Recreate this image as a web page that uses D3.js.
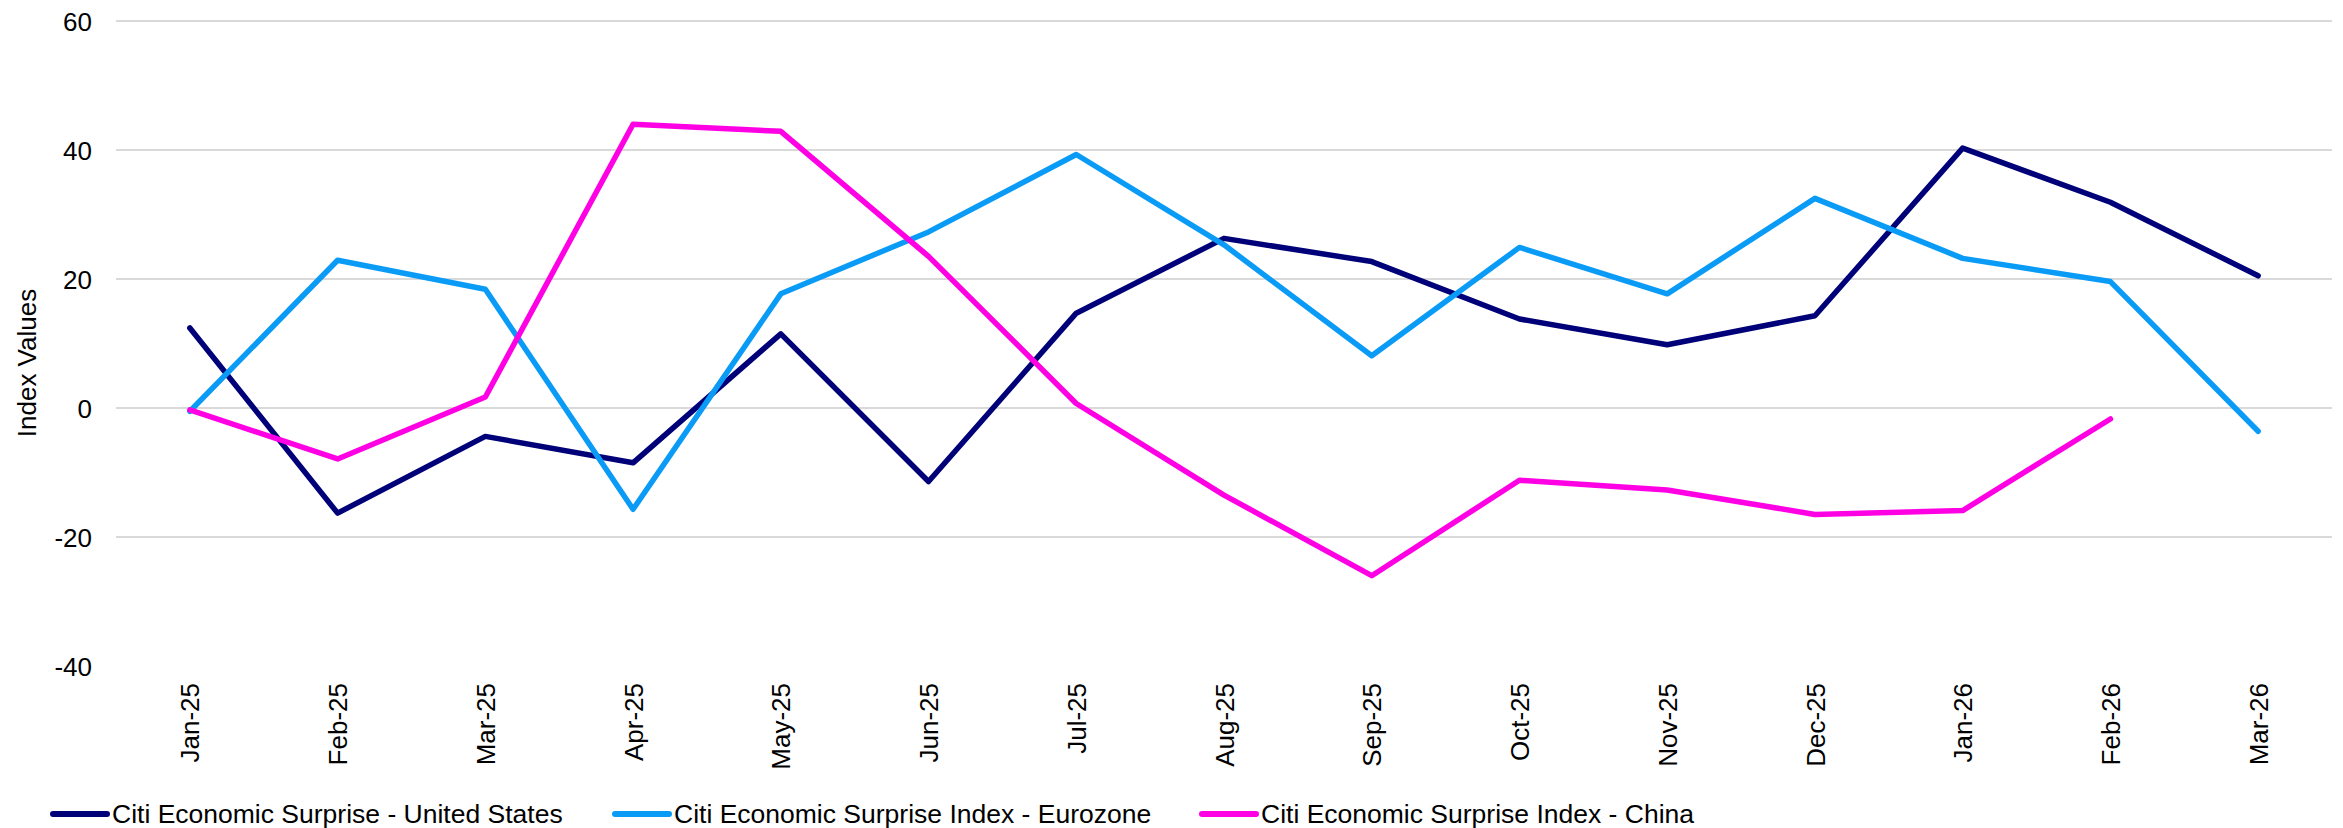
<!DOCTYPE html>
<html>
<head>
<meta charset="utf-8">
<script src="https://cdn.jsdelivr.net/npm/d3@7"></script>
<style>
  html, body { margin: 0; padding: 0; background: #fff; }
  svg { display: block; font-family: "Liberation Sans", Arial, sans-serif; }
</style>
</head>
<body>
<svg id="chart" width="2343" height="828"></svg>
<script>
const months = ["Jan-25","Feb-25","Mar-25","Apr-25","May-25","Jun-25","Jul-25","Aug-25","Sep-25","Oct-25","Nov-25","Dec-25","Jan-26","Feb-26","Mar-26"];
const usValues = [12.4, -16.3, -4.4, -8.5, 11.5, -11.4, 14.7, 26.3, 22.7, 13.8, 9.8, 14.3, 40.3, 31.9, 20.5];
const ezValues = [-0.5, 22.9, 18.4, -15.7, 17.7, 27.3, 39.3, 25.3, 8.1, 24.9, 17.7, 32.5, 23.2, 19.6, -3.6];
const cnValues = [-0.3, -7.9, 1.7, 44.0, 42.9, 23.5, 0.7, -13.5, -26.0, -11.2, -12.7, -16.5, -15.9, -1.7, null];
const yTicks = [-40, -20, 0, 20, 40, 60];
const yTickLabels = ["-40", "-20", "0", "20", "40", "60"];
const seriesNames = ["Citi Economic Surprise - United States", "Citi Economic Surprise Index - Eurozone", "Citi Economic Surprise Index - China"];
const seriesColors = ["#000078", "#0A9BF7", "#FF00E4"];

(function () {
const series = [usValues, ezValues, cnValues].map((vals, i) => ({
  name: seriesNames[i], color: seriesColors[i],
  points: months.map((m, j) => ({ m, v: vals[j] }))
}));

const svg = d3.select("#chart");
const plotLeft = 116, plotRight = 2332, plotTop = 21, plotBottom = 666;
const fontSize = 26;

const x = d3.scalePoint().domain(months).range([plotLeft, plotRight]).padding(0.5);
const y = d3.scaleLinear().domain([-40, 60]).range([plotBottom, plotTop]);

// gridlines
svg.append("g").selectAll("line").data(yTicks.filter(t => t !== -40)).join("line")
  .attr("x1", plotLeft).attr("x2", plotRight)
  .attr("y1", d => y(d)).attr("y2", d => y(d))
  .attr("stroke", "#D9D9D9").attr("stroke-width", 2);

// y axis
const yAxis = d3.axisLeft(y).tickValues(yTicks).tickSize(0).tickPadding(0)
  .tickFormat((d, i) => yTickLabels[i]);
const yg = svg.append("g").attr("transform", "translate(92,0)").call(yAxis);
yg.select(".domain").remove();
yg.selectAll("text").attr("font-size", fontSize).attr("fill", "#000")
  .attr("font-family", "Liberation Sans, Arial, sans-serif").attr("dy", "0.35em");

// y title
svg.append("text")
  .attr("transform", "translate(36,363) rotate(-90)")
  .attr("text-anchor", "middle")
  .attr("font-size", fontSize).attr("fill", "#000")
  .text("Index Values");

// x axis
const xAxis = d3.axisBottom(x).tickSize(0).tickPadding(0);
const xg = svg.append("g").attr("transform", "translate(0,683)").call(xAxis);
xg.select(".domain").remove();
xg.selectAll("text")
  .attr("font-size", fontSize).attr("fill", "#000")
  .attr("font-family", "Liberation Sans, Arial, sans-serif")
  .attr("text-anchor", "end")
  .attr("transform", "rotate(-90)")
  .attr("x", 0).attr("y", 0).attr("dx", 0).attr("dy", "0.35em");

// lines
const line = d3.line().defined(d => d.v !== null).x(d => x(d.m)).y(d => y(d.v));
svg.append("g").selectAll("path").data(series).join("path")
  .attr("d", d => line(d.points))
  .attr("fill", "none")
  .attr("stroke", d => d.color)
  .attr("stroke-width", 5.5)
  .attr("stroke-linejoin", "round")
  .attr("stroke-linecap", "round");

// legend
const legendX = [53, 615, 1202];
const legendY = 814;
const lg = svg.append("g").selectAll("g").data(series).join("g")
  .attr("transform", (d, i) => `translate(${legendX[i]},${legendY})`);
lg.append("line").attr("x1", 0).attr("x2", 54).attr("y1", 0).attr("y2", 0)
  .attr("stroke", d => d.color).attr("stroke-width", 6).attr("stroke-linecap", "round");
lg.append("text").attr("x", 59).attr("y", 0).attr("dy", "0.35em")
  .attr("font-size", 26.5).attr("fill", "#000")
  .text(d => d.name);
})();
</script>
</body>
</html>
